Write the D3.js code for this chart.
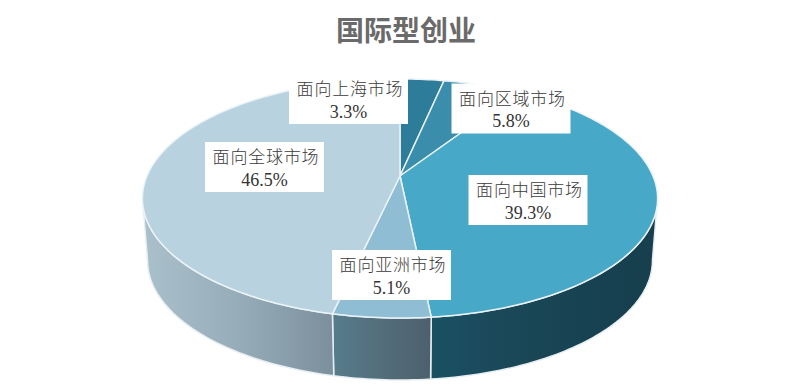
<!DOCTYPE html>
<html>
<head>
<meta charset="utf-8">
<script src="https://cdn.jsdelivr.net/npm/d3@7"></script>
<style>
  html, body { margin: 0; padding: 0; background: #fff; }
  svg { display: block; }
  text { font-family: "Liberation Serif", "Noto Sans CJK SC", serif; }
</style>
</head>
<body>
<svg id="chart" width="800" height="386"></svg>
<script>
const title = "国际型创业";
const categories = ["面向上海市场", "面向区域市场", "面向中国市场", "面向亚洲市场", "面向全球市场"];
const values = [3.3, 5.8, 39.3, 5.1, 46.5];

const topColors = ["#2d7c99", "#3a8dab", "#48a8c8", "#8fbdd3", "#b9d2df"];
// label box centres, same order as categories
const labelX = [348.5, 511, 528, 391.5, 264.5];
const labelY = [99, 108.5, 200, 275, 167];
const labelWidth = 119;
const labelHeight = 50;

const width = 800;
const height = 386;
const svg = d3.select("#chart");

// perspective tilt of the disc: front edge is closer to the viewer
const tilt = -0.188;
const depth = 62;
const bottomShrink = 0.98;

const xScale = d3.scaleLinear().domain([-1, 1]).range([400 - 253, 400 + 253]);
const yScale = d3.scaleLinear().domain([-1, 1]).range([176 - 115.3, 176 + 115.3]);

function project(angle) {
    let u = Math.sin(angle);
    let v = -Math.cos(angle);
    let d = 1 + tilt * v;
    return [xScale(u / d), yScale(v / d)];
}

function projectBottom(angle) {
    let p = project(angle);
    return [400 + (p[0] - 400) * bottomShrink, p[1] + depth];
}

function sample(a0, a1) {
    let n = Math.max(2, Math.ceil(Math.abs(a1 - a0) / 0.02));
    return d3.range(n + 1).map(i => a0 + (a1 - a0) * i / n);
}

const slices = d3.pie().sort(null).value(d => d)(values);
const line = d3.line();
const centre = [xScale(0), yScale(0)];

// gradients for the side wall
const defs = svg.append("defs");
function wallGradient(id, x1, x2, stops) {
    let g = defs.append("linearGradient")
        .attr("id", id)
        .attr("gradientUnits", "userSpaceOnUse")
        .attr("x1", x1).attr("x2", x2)
        .attr("y1", 0).attr("y2", 0);
    stops.forEach((c, i) => {
        g.append("stop")
            .attr("offset", i / (stops.length - 1))
            .attr("stop-color", c);
    });
}
wallGradient("wallLeft", 146, 333, ["#a9bfca", "#96adb9", "#7b909c"]);
wallGradient("wallMid", 333, 432, ["#567c8c", "#536d7b", "#4c606c"]);
wallGradient("wallRight", 432, 655, ["#1a5064", "#1b4858", "#174251", "#173f4e"]);

// rim angles where the side wall turns out of sight
const wallStart = 100.6 * Math.PI / 180;
const wallEnd = 259.4 * Math.PI / 180;
const walls = [
    { a0: wallStart, a1: slices[2].endAngle, fill: "url(#wallRight)" },
    { a0: slices[3].startAngle, a1: slices[3].endAngle, fill: "url(#wallMid)" },
    { a0: slices[4].startAngle, a1: wallEnd, fill: "url(#wallLeft)" }
];

svg.append("g").selectAll("path")
    .data(walls)
    .join("path")
    .attr("d", d => {
        let angles = sample(d.a0, d.a1);
        let pts = angles.map(project).concat(angles.slice().reverse().map(projectBottom));
        return line(pts) + "Z";
    })
    .attr("fill", d => d.fill)
    .attr("stroke", "#e6eef2")
    .attr("stroke-width", 1.5)
    .attr("stroke-linejoin", "round");

// top of the disc
svg.append("g").selectAll("path")
    .data(slices)
    .join("path")
    .attr("d", d => line([centre].concat(sample(d.startAngle, d.endAngle).map(project))) + "Z")
    .attr("fill", (d, i) => topColors[i])
    .attr("stroke", "#eaf3f7")
    .attr("stroke-width", 1.5)
    .attr("stroke-linejoin", "round");

// labels
const labels = svg.append("g").selectAll("g")
    .data(categories)
    .join("g")
    .attr("transform", (d, i) => "translate(" + labelX[i] + "," + labelY[i] + ")");

labels.append("rect")
    .attr("x", -labelWidth / 2)
    .attr("y", -labelHeight / 2)
    .attr("width", labelWidth)
    .attr("height", labelHeight)
    .attr("fill", "#fff");

labels.append("text")
    .attr("text-anchor", "middle")
    .attr("x", 1.5)
    .attr("y", -4)
    .attr("font-size", 17)
    .attr("font-weight", 300)
    .attr("letter-spacing", 0.8)
    .attr("fill", "#3a3a3a")
    .text(d => d);

labels.append("text")
    .attr("text-anchor", "middle")
    .attr("y", 18.5)
    .attr("font-size", 18)
    .attr("fill", "#333")
    .text((d, i) => values[i].toFixed(1) + "%");

svg.append("text")
    .attr("x", 406)
    .attr("y", 41)
    .attr("text-anchor", "middle")
    .attr("font-size", 28)
    .attr("font-weight", "bold")
    .attr("fill", "#6a6a6a")
    .text(title);
</script>
</body>
</html>
